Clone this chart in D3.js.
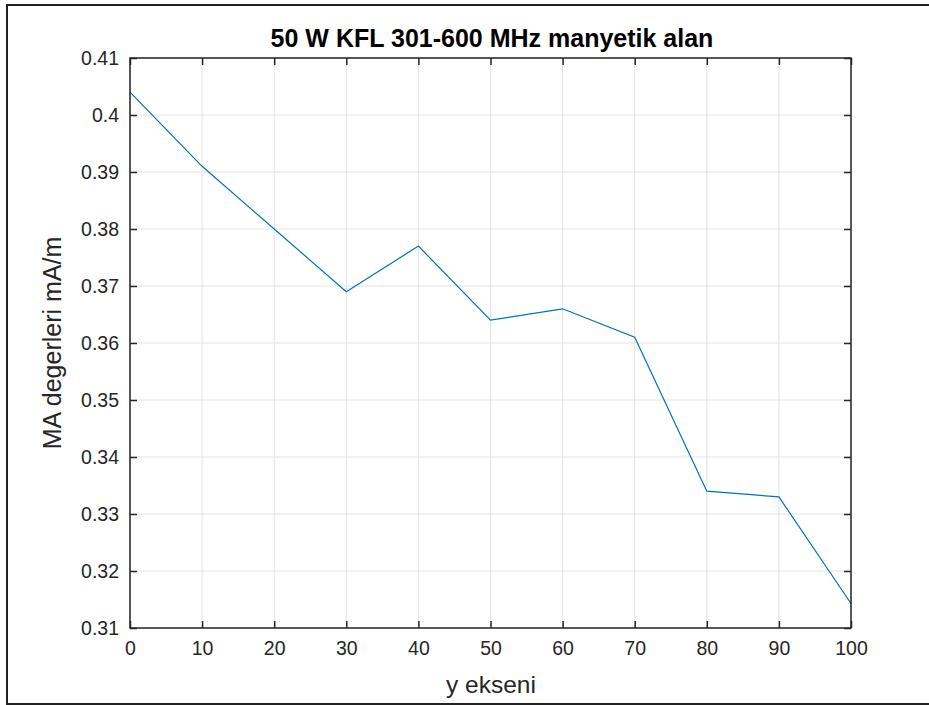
<!DOCTYPE html>
<html>
<head>
<meta charset="utf-8">
<script src="https://cdn.jsdelivr.net/npm/d3@7"></script>
<style>
  body { margin: 0; background: #fff; }
  svg { display: block; font-family: "Liberation Sans", Arial, sans-serif; }
</style>
</head>
<body>
<svg id="mysvg" width="929" height="705"></svg>
<script>
// data
var xValues = [0, 10, 20, 30, 40, 50, 60, 70, 80, 90, 100];
var maValues = [0.404, 0.391, 0.380, 0.369, 0.377, 0.364, 0.366, 0.361, 0.334, 0.333, 0.3143];
var xTicks = [0, 10, 20, 30, 40, 50, 60, 70, 80, 90, 100];
var yTicks = [0.31, 0.32, 0.33, 0.34, 0.35, 0.36, 0.37, 0.38, 0.39, 0.4, 0.41];

var titleText = "50 W KFL 301-600 MHz manyetik alan";
var xLabel = "y ekseni";
var yLabel = "MA degerleri mA/m";

var svg = d3.select("#mysvg");
var pLeft = 130, pRight = 851, pTop = 58, pBottom = 628;
var axisColor = "#262626";

// outer frame
svg.append("rect")
  .attr("x", 7).attr("y", 5)
  .attr("width", 940).attr("height", 699)
  .attr("fill", "none").attr("stroke", "#222").attr("stroke-width", 2);

var x = d3.scaleLinear().domain([0, 100]).range([pLeft, pRight]);
var y = d3.scaleLinear().domain([0.31, 0.41]).range([pBottom, pTop]);

// grid
var grid = svg.append("g");
grid.selectAll(".gx").data(xTicks).enter().append("line")
  .attr("x1", function(d) { return x(d) }).attr("x2", function(d) { return x(d) })
  .attr("y1", pTop).attr("y2", pBottom)
  .attr("stroke", "#e3e3e3").attr("stroke-width", 1);
grid.selectAll(".gy").data(yTicks).enter().append("line")
  .attr("y1", function(d) { return y(d) }).attr("y2", function(d) { return y(d) })
  .attr("x1", pLeft).attr("x2", pRight)
  .attr("stroke", "#e3e3e3").attr("stroke-width", 1);

// data line
var line = d3.line()
  .x(function(d, i) { return x(xValues[i]) })
  .y(function(d) { return y(d) });

svg.append("path")
  .datum(maValues)
  .attr("d", line)
  .attr("fill", "none")
  .attr("stroke", "#0072BD")
  .attr("stroke-width", 1.2);

// axes, ticks pointing inward, mirrored on top and right
function styleAxis(g) {
  g.select(".domain").remove();
  g.selectAll(".tick line").attr("stroke", axisColor).attr("stroke-width", 1.5);
  g.selectAll(".tick text").attr("fill", axisColor).attr("font-size", 19.5)
    .attr("font-family", "Liberation Sans, Arial, sans-serif");
}

svg.append("g")
  .attr("transform", "translate(0," + pBottom + ")")
  .call(d3.axisBottom(x).tickValues(xTicks).tickSize(-7).tickPadding(13).tickFormat(d3.format("d")))
  .call(styleAxis);
svg.append("g")
  .attr("transform", "translate(0," + pTop + ")")
  .call(d3.axisTop(x).tickValues(xTicks).tickSize(-7).tickFormat(""))
  .call(styleAxis);
svg.append("g")
  .attr("transform", "translate(" + pLeft + ",0)")
  .call(d3.axisLeft(y).tickValues(yTicks).tickSize(-7).tickPadding(11).tickFormat(function(d) { return String(+d.toFixed(2)) }))
  .call(styleAxis);
svg.append("g")
  .attr("transform", "translate(" + pRight + ",0)")
  .call(d3.axisRight(y).tickValues(yTicks).tickSize(-7).tickFormat(""))
  .call(styleAxis);

// axes box
svg.append("rect")
  .attr("x", pLeft).attr("y", pTop)
  .attr("width", pRight - pLeft).attr("height", pBottom - pTop)
  .attr("fill", "none").attr("stroke", axisColor).attr("stroke-width", 1.5);

// title and labels
svg.append("text")
  .attr("x", 492).attr("y", 47)
  .attr("text-anchor", "middle")
  .attr("font-size", 25).attr("font-weight", "bold").attr("fill", "#000")
  .text(titleText);

svg.append("text")
  .attr("x", 491).attr("y", 693)
  .attr("text-anchor", "middle")
  .attr("font-size", 24.5).attr("fill", axisColor)
  .text(xLabel);

svg.append("text")
  .attr("transform", "translate(61,343) rotate(-90)")
  .attr("text-anchor", "middle")
  .attr("font-size", 25).attr("fill", axisColor)
  .text(yLabel);
</script>
</body>
</html>
